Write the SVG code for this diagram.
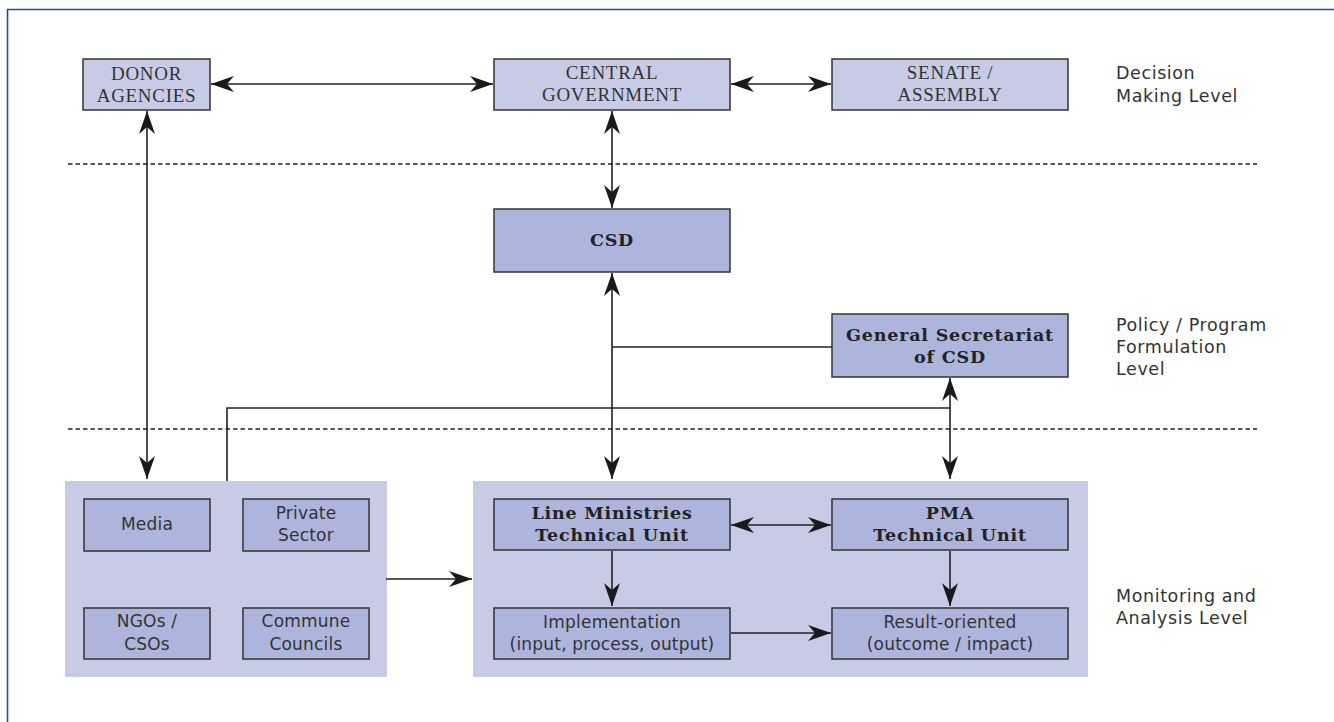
<svg xmlns="http://www.w3.org/2000/svg" width="1334" height="722" viewBox="0 0 1334 722">
<style>
.bg{fill:#ffffff}
.light{fill:#c7cbe6;stroke:#333;stroke-width:1.5}
.dark{fill:#adb5dc;stroke:#333;stroke-width:1.5}
.grp{fill:#c7cbe6;stroke:none}
.cap{font-family:"Liberation Serif",serif;font-size:19px;fill:#333;text-anchor:middle;letter-spacing:0.7px}
.reg{font-family:"DejaVu Sans",sans-serif;font-size:17px;fill:#333;text-anchor:middle;letter-spacing:0.2px}
.bold{font-family:"DejaVu Serif",serif;font-weight:bold;font-size:17.5px;fill:#222;text-anchor:middle;letter-spacing:0.8px}
.lbl{font-family:"DejaVu Sans",sans-serif;font-size:17.5px;fill:#333;letter-spacing:0.6px}
.ln{fill:none;stroke:#222;stroke-width:1.6}
.arr{marker-end:url(#ah)}
.both{marker-start:url(#ah);marker-end:url(#ah)}
.dash{fill:none;stroke:#222;stroke-width:1.3;stroke-dasharray:4.5 3}
</style>
<defs>
<marker id="ah" markerUnits="userSpaceOnUse" viewBox="-25 -9 26 18" refX="0" refY="0" markerWidth="26" markerHeight="18" orient="auto-start-reverse">
<path d="M0,0 L-23,-8 L-16,0 L-23,8 Z" fill="#1a1a1a"/>
</marker>
</defs>
<rect class="bg" x="0" y="0" width="1334" height="722"/>
<path d="M7.5,722 V9.5 H1334" fill="none" stroke="#2b4c8c" stroke-width="1.6"/>

<g id="separators">
<line class="dash" x1="68" y1="164" x2="1257" y2="164"/>
<line class="dash" x1="68" y1="429" x2="1257" y2="429"/>
</g>

<g id="group-left"><rect class="grp" x="65" y="481" width="322" height="196"/></g>
<g id="group-right"><rect class="grp" x="473" y="481" width="615" height="196"/></g>

<g id="connectors">
<path class="ln both" d="M211,84 H493"/>
<path class="ln both" d="M731,84 H831"/>
<path class="ln both" d="M612,111 V208"/>
<path class="ln both" d="M147,111 V479"/>
<path class="ln both" d="M612,273 V479"/>
<path class="ln" d="M612,347 H832"/>
<path class="ln both" d="M950,378 V479"/>
<path class="ln" d="M227,481 V408 H950"/>
<path class="ln arr" d="M386,579 H472"/>
<path class="ln both" d="M731,525 H831"/>
<path class="ln arr" d="M612,551 V606"/>
<path class="ln arr" d="M950,551 V606"/>
<path class="ln arr" d="M731,633 H831"/>
</g>

<g id="donor">
<rect class="light" x="83" y="59" width="127" height="51"/>
<text class="cap" x="146.5" y="80">DONOR</text>
<text class="cap" x="146.5" y="102">AGENCIES</text>
</g>
<g id="central">
<rect class="light" x="494" y="59" width="236" height="51"/>
<text class="cap" x="612" y="79">CENTRAL</text>
<text class="cap" x="612" y="101">GOVERNMENT</text>
</g>
<g id="senate">
<rect class="light" x="832" y="59" width="236" height="51"/>
<text class="cap" x="950" y="79">SENATE /</text>
<text class="cap" x="950" y="101">ASSEMBLY</text>
</g>
<g id="csd">
<rect class="dark" x="494" y="209" width="236" height="63"/>
<text class="bold" x="612" y="246">CSD</text>
</g>
<g id="gs">
<rect class="dark" x="832" y="314" width="236" height="63"/>
<text class="bold" x="950" y="341">General Secretariat</text>
<text class="bold" x="950" y="363">of CSD</text>
</g>
<g id="media">
<rect class="dark" x="84" y="499" width="126" height="52"/>
<text class="reg" x="147" y="530">Media</text>
</g>
<g id="private">
<rect class="dark" x="243" y="499" width="126" height="52"/>
<text class="reg" x="306" y="519">Private</text>
<text class="reg" x="306" y="541">Sector</text>
</g>
<g id="ngos">
<rect class="dark" x="84" y="608" width="126" height="51"/>
<text class="reg" x="147" y="627">NGOs /</text>
<text class="reg" x="147" y="650">CSOs</text>
</g>
<g id="commune">
<rect class="dark" x="243" y="608" width="126" height="51"/>
<text class="reg" x="306" y="627">Commune</text>
<text class="reg" x="306" y="650">Councils</text>
</g>
<g id="line-ministries">
<rect class="dark" x="494" y="499" width="236" height="51"/>
<text class="bold" x="612" y="519">Line Ministries</text>
<text class="bold" x="612" y="541">Technical Unit</text>
</g>
<g id="pma">
<rect class="dark" x="832" y="499" width="236" height="51"/>
<text class="bold" x="950" y="519">PMA</text>
<text class="bold" x="950" y="541">Technical Unit</text>
</g>
<g id="implementation">
<rect class="dark" x="494" y="608" width="236" height="51"/>
<text class="reg" x="612" y="628">Implementation</text>
<text class="reg" x="612" y="650">(input, process, output)</text>
</g>
<g id="result">
<rect class="dark" x="832" y="608" width="236" height="51"/>
<text class="reg" x="950" y="628">Result-oriented</text>
<text class="reg" x="950" y="650">(outcome / impact)</text>
</g>

<g id="level-labels">
<text class="lbl" x="1116" y="79">Decision</text>
<text class="lbl" x="1116" y="102">Making Level</text>
<text class="lbl" x="1116" y="331">Policy / Program</text>
<text class="lbl" x="1116" y="353">Formulation</text>
<text class="lbl" x="1116" y="375">Level</text>
<text class="lbl" x="1116" y="602">Monitoring and</text>
<text class="lbl" x="1116" y="624">Analysis Level</text>
</g>
</svg>
